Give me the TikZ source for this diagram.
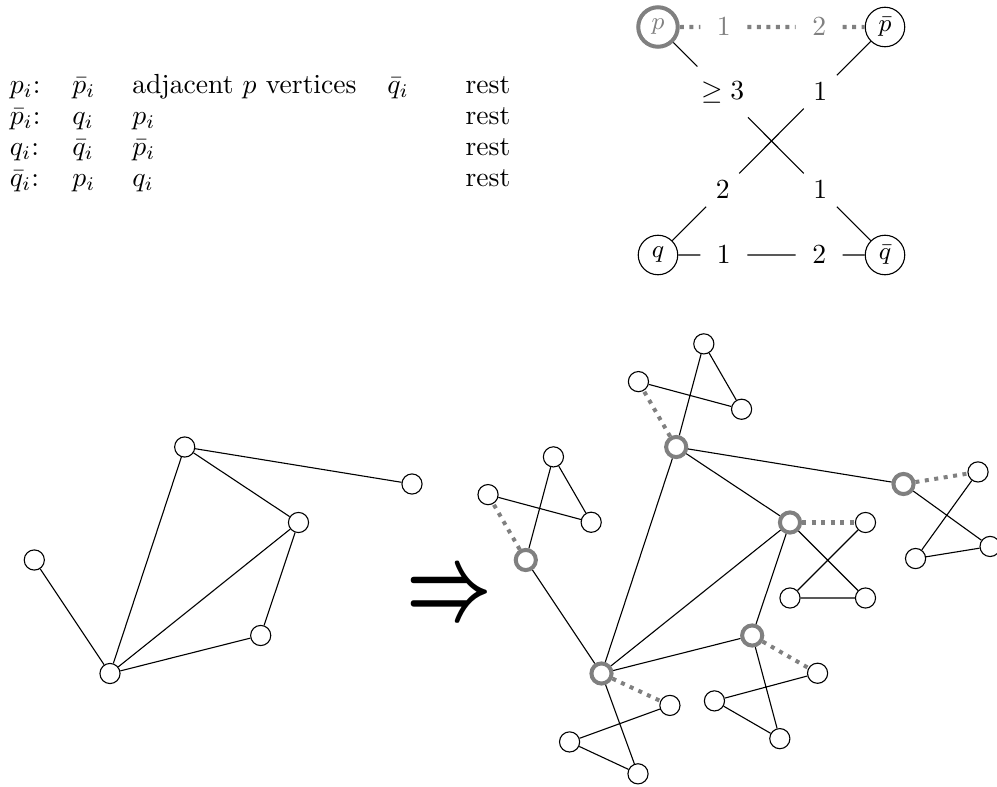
\documentclass[tikz,border=0pt]{standalone}
\usetikzlibrary{calc}
\newcommand\mkgadget[2]{%
  \node[vtx] (#1b) at ($(#1)+(#2:75.5)$) {};
  \node[vtx] (#1q) at ($(#1)+(#2+90:75.5)$) {};
  \node[vtx] (#1qb) at ($(#1)+(#2:75.5)+(#2+90:75.5)$) {};
  \draw[dots] (#1) -- (#1b);
  \draw (#1) -- (#1qb) (#1b) -- (#1q) (#1q) -- (#1qb);
}
\begin{document}
\begin{tikzpicture}[x=0.362pt,y=-0.362pt,
  vtx/.style={circle,draw,fill=white,minimum size=7.3pt,inner sep=0pt},
  gv/.style={vtx,draw=gray,line width=1.45pt},
  dots/.style={gray,line width=1.45pt,dotted},
  bv/.style={circle,draw,fill=white,minimum size=14.3pt,inner sep=0pt,font=\small},
  bgv/.style={bv,draw=gray,line width=1.45pt,text=gray},
  lab/.style={circle,inner sep=.3em},
  cell/.style={anchor=base west,inner sep=0pt}]
\useasboundingbox (0,0) rectangle (997,787);

% table
\node[cell] (r1c1) at (9.3,93.5) {$p_i$:};
\node[cell] (r1c2) at (71.7,93.5) {$\bar{p}_i$};
\node[cell] (r1c3) at (131.7,93.5) {adjacent $p$ vertices};
\node[cell] (r1c4) at (386.7,93.5) {$\bar{q}_i$};
\node[cell] (r1c5) at (465,93.5) {rest};
\node[cell] (r2c1) at (9.3,124.5) {$\bar{p}_i$:};
\node[cell] (r2c2) at (71.7,124.5) {$q_i$};
\node[cell] (r2c3) at (131.7,124.5) {$p_i$};
\node[cell] (r2c5) at (465,124.5) {rest};
\node[cell] (r3c1) at (9.3,155.5) {$q_i$:};
\node[cell] (r3c2) at (71.7,155.5) {$\bar{q}_i$};
\node[cell] (r3c3) at (131.7,155.5) {$\bar{p}_i$};
\node[cell] (r3c5) at (465,155.5) {rest};
\node[cell] (r4c1) at (9.3,186.5) {$\bar{q}_i$:};
\node[cell] (r4c2) at (71.7,186.5) {$p_i$};
\node[cell] (r4c3) at (131.7,186.5) {$q_i$};
\node[cell] (r4c5) at (465,186.5) {rest};

% gadget legend
\node[bgv] (P) at (658,27) {$p$};
\node[bv] (PB) at (885,27) {$\bar{p}$};
\node[bv] (Q) at (658,255) {$q$};
\node[bv] (QB) at (885,255) {$\bar{q}$};
\node[lab,text=gray] (t1) at ($(P.center)!0.29!(PB.center)$) {$1$};
\node[lab,text=gray] (t2) at ($(P.center)!0.71!(PB.center)$) {$2$};
\node[lab] (d1) at ($(P.center)!0.285!(QB.center)$) {$\geq 3$};
\node[lab] (d2) at ($(P.center)!0.715!(QB.center)$) {$1$};
\node[lab] (e1) at ($(PB.center)!0.285!(Q.center)$) {$1$};
\node[lab] (e2) at ($(PB.center)!0.715!(Q.center)$) {$2$};
\node[lab] (b1) at ($(Q.center)!0.29!(QB.center)$) {$1$};
\node[lab] (b2) at ($(Q.center)!0.71!(QB.center)$) {$2$};
\draw[dots] (P) -- (t1) (t1) -- (t2) (t2) -- (PB);
\draw (P) -- (d1) (d1) -- (d2) (d2) -- (QB);
\draw (PB) -- (e1) (e1) -- (e2) (e2) -- (Q);
\draw (Q) -- (b1) (b1) -- (b2) (b2) -- (QB);

% left graph
\node[vtx] (a) at (184.7,447) {};
\node[vtx] (b) at (412,484) {};
\node[vtx] (c) at (298.5,522.5) {};
\node[vtx] (d) at (34.3,560) {};
\node[vtx] (e) at (260.7,635.5) {};
\node[vtx] (f) at (110,673.5) {};
\draw (a) -- (b) (a) -- (c) (a) -- (f) (d) -- (f) (c) -- (f) (c) -- (e) (e) -- (f);

% arrow
\node[inner sep=0pt] (arr) at (449.5,597.5) {\scalebox{2.7}[3.8]{\boldmath$\Rightarrow$}};

% right graph
\node[gv] (g1) at (676.2,447) {};
\node[gv] (g3) at (903.5,484) {};
\node[gv] (g4) at (790,522.5) {};
\node[gv] (g2) at (525.8,560) {};
\node[gv] (g5) at (752.2,635.5) {};
\node[gv] (g6) at (601.5,673.5) {};
\draw (g1) -- (g3) (g1) -- (g4) (g1) -- (g6) (g2) -- (g6) (g4) -- (g6) (g4) -- (g5) (g5) -- (g6);
\mkgadget{g1}{-120}
\mkgadget{g2}{-120}
\mkgadget{g3}{-9.2}
\mkgadget{g4}{0}
\mkgadget{g5}{30}
\mkgadget{g6}{25}
\end{tikzpicture}
\end{document}
